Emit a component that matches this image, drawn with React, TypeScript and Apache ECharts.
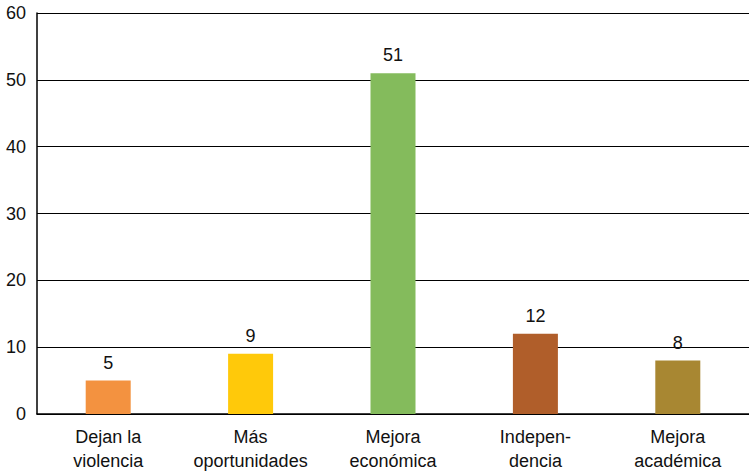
import React, { useEffect, useRef } from "react";
import * as echarts from "echarts";

const categories = ["Dejan la\nviolencia", "Más\noportunidades", "Mejora\neconómica", "Indepen-\ndencia", "Mejora\nacadémica"];
const values = [5, 9, 51, 12, 8];
const colors = ["#F39240", "#FFC90A", "#84BB5C", "#B05E2A", "#A88732"];

export default function App() {
  const ref = useRef<HTMLDivElement>(null);
  useEffect(() => {
    document.body.style.margin = "0";
    const chart = echarts.init(ref.current!, null, { renderer: "svg" });
    chart.setOption({
      animation: false,
      backgroundColor: "#ffffff",
      grid: { left: 37, right: 0, top: 13, bottom: 56 },
      xAxis: {
        type: "category",
        data: categories,
        axisLine: { lineStyle: { color: "#000", width: 1.5 } },
        axisTick: { show: false },
        axisLabel: {
          color: "#111",
          fontFamily: "Liberation Sans, Arial, sans-serif",
          fontSize: 18,
          lineHeight: 24,
          margin: 11,
          interval: 0,
        },
      },
      yAxis: {
        type: "value",
        min: 0,
        max: 60,
        interval: 10,
        axisLine: { show: true, lineStyle: { color: "#000", width: 1.5 } },
        axisTick: { show: false },
        axisLabel: {
          color: "#111",
          fontFamily: "Liberation Sans, Arial, sans-serif",
          fontSize: 18,
          margin: 11,
        },
        splitLine: { lineStyle: { color: "#000", width: 1 } },
      },
      series: [
        {
          type: "bar",
          barWidth: 45,
          data: values.map((v, i) => ({ value: v, itemStyle: { color: colors[i] } })),
          label: {
            show: true,
            position: "top",
            distance: 9,
            color: "#111",
            fontFamily: "Liberation Sans, Arial, sans-serif",
            fontSize: 18,
          },
        },
      ],
    });
    return () => chart.dispose();
  }, []);
  return <div ref={ref} style={{ position: "absolute", left: 0, top: 0, width: 749, height: 473 }} />;
}
